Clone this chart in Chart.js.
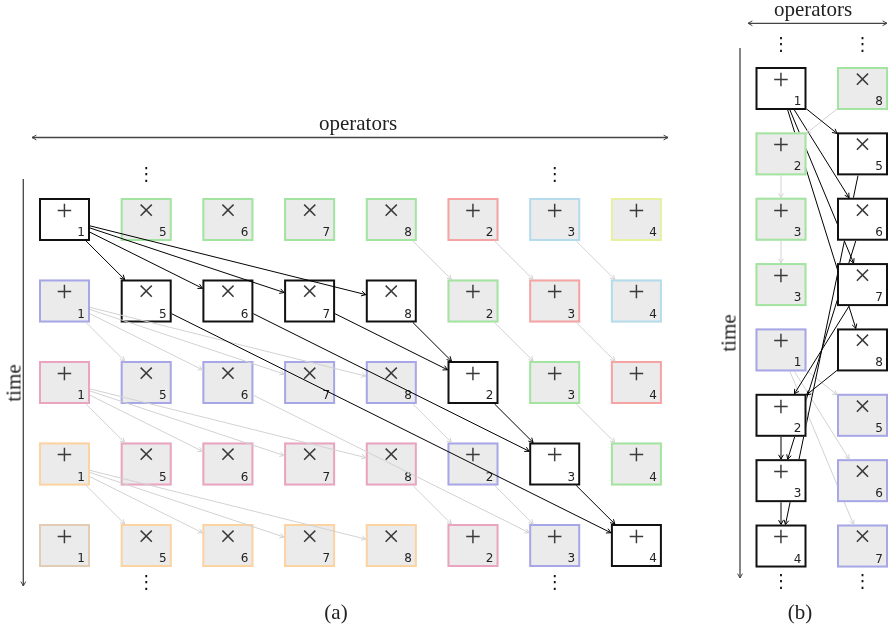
<!DOCTYPE html>
<html lang="en">
<head>
<meta charset="UTF-8" />
<title>Operator schedule</title>
<style>
  body {
    margin: 0;
    background: #fff;
  }
  #wrap {
    position: relative;
    width: 892px;
    height: 633px;
  }
  canvas {
    position: absolute;
    left: 0;
    top: 0;
  }
  .lbl {
    position: absolute;
    font-family: 'Liberation Serif', serif;
    font-size: 21px;
    line-height: 1;
    color: #222;
    white-space: nowrap;
    transform: translate(-50%, -50%);
  }
  .rot {
    transform: translate(-50%, -50%) rotate(-90deg);
  }
</style>
</head>
<body>

<div id="wrap">
  <canvas id="chart" width="892" height="633"></canvas>
  <div class="lbl" style="left:358px; top:123px">operators</div>
  <div class="lbl rot" style="left:14px; top:383px">time</div>
  <div class="lbl" style="left:336px; top:612px">(a)</div>
  <div class="lbl" style="left:813px; top:9px">operators</div>
  <div class="lbl rot" style="left:729px; top:333px">time</div>
  <div class="lbl" style="left:800px; top:612px">(b)</div>
</div>

<script src="https://cdn.jsdelivr.net/npm/chart.js"></script>
<script>
// ---- (a): 8 operators, 5 time steps ----
const opA  = ['+', '×', '×', '×', '×', '+', '+', '+'];
const numA = [1, 5, 6, 7, 8, 2, 3, 4];
// which iteration each cell belongs to (0 = the highlighted one)
const iterA = [
  [0, -1, -1, -1, -1, -2, -3, -4],
  [1,  0,  0,  0,  0, -1, -2, -3],
  [2,  1,  1,  1,  1,  0, -1, -2],
  [3,  2,  2,  2,  2,  1,  0, -1],
  [4,  3,  3,  3,  3,  2,  1,  0]
];
// edges [fromRow, fromCol, toRow, toCol]
const edgesA = [
  [0,0, 1,1], [0,0, 1,2], [0,0, 1,3], [0,0, 1,4],
  [1,1, 4,7], [1,2, 3,6], [1,3, 2,5], [1,4, 2,5], [2,5, 3,6], [3,6, 4,7],
  [1,0, 2,1], [1,0, 2,2], [1,0, 2,3], [1,0, 2,4],
  [2,0, 3,1], [2,0, 3,2], [2,0, 3,3], [2,0, 3,4],
  [3,0, 4,1], [3,0, 4,2], [3,0, 4,3], [3,0, 4,4],
  [2,2, 4,6], [2,4, 3,5], [3,5, 4,6], [3,4, 4,5],
  [0,4, 1,5], [1,5, 2,6], [2,6, 3,7],
  [0,5, 1,6], [1,6, 2,7],
  [0,6, 1,7]
];
const dotsA = [[-0.55, 1], [-0.55, 6], [4.45, 1], [4.45, 6]];

// ---- (b): 2 operators, 8 time steps ----
const opB  = ['+', '×'];
const numB = [[1, 8], [2, 5], [3, 6], [3, 7], [1, 8], [2, 5], [3, 6], [4, 7]];
const iterB = [[0, -1], [-1, 0], [-1, 0], [-1, 0], [1, 0], [0, 1], [0, 1], [0, 1]];
const edgesB = [
  [0,0, 1,1], [0,0, 2,1], [0,0, 3,1], [0,0, 4,1],
  [1,1, 7,0], [2,1, 6,0], [3,1, 5,0], [4,1, 5,0], [5,0, 6,0], [6,0, 7,0],
  [0,1, 1,0], [1,0, 2,0], [2,0, 3,0],
  [4,0, 5,1], [4,0, 6,1], [4,0, 7,1]
];
const dotsB = [[-0.68, 0], [-0.68, 1], [7.55, 0], [7.55, 1]];

// colours per iteration
const palette = {
  '0': '#111111', '-1': '#a3e4a0', '-2': '#f5a3a3', '-3': '#b4dcec', '-4': '#e8f0a2',
  '1': '#a7a7e8', '2': '#eaa4bf', '3': '#fdd3a2', '4': '#e2cdb4'
};

const W = 892, H = 633;
const HW = 25.5, HH = 21.5;   // half box size in px

// grid layout -> scale ranges (first centre px, step px)
function range(first, step, size) {
  return { min: -first / step, max: (size - first) / step };
}
const rxA = range(64.5, 81.7, W), ryA = range(219.5, 81.5, H);
const rxB = range(781, 81.5, W),  ryB = range(88.5, 65.36, H);

function cells(op, num, iter, perRow) {
  const out = [];
  iter.forEach((row, r) => row.forEach((it, c) => {
    out.push({ x: c, y: r, op: op[c], num: perRow ? num[r][c] : num[c], it: it });
  }));
  return out;
}
const nodesA = cells(opA, numA, iterA, false);
const nodesB = cells(opB, numB, iterB, true);

function clip(cx, cy, dx, dy) {
  const t = Math.min(dx ? HW / Math.abs(dx) : Infinity, dy ? HH / Math.abs(dy) : Infinity);
  return [cx + dx * t, cy + dy * t];
}

function edgeGeom(chart, p, e) {
  const sx = chart.scales['x' + p], sy = chart.scales['y' + p];
  const x1 = sx.getPixelForValue(e[1]), y1 = sy.getPixelForValue(e[0]);
  const x2 = sx.getPixelForValue(e[3]), y2 = sy.getPixelForValue(e[2]);
  const dx = x2 - x1, dy = y2 - y1;
  return { a: clip(x1, y1, dx, dy), b: clip(x2, y2, -dx, -dy), ang: Math.atan2(dy, dx) };
}

function drawLine(ctx, g, col) {
  ctx.strokeStyle = col;
  ctx.lineWidth = 1;
  ctx.beginPath();
  ctx.moveTo(g.a[0], g.a[1]);
  ctx.lineTo(g.b[0], g.b[1]);
  ctx.stroke();
}

function drawHead(ctx, x, y, ang, col) {
  const L = 5, s = 0.5;
  ctx.strokeStyle = col;
  ctx.lineWidth = 1;
  ctx.beginPath();
  ctx.moveTo(x - L * Math.cos(ang - s), y - L * Math.sin(ang - s));
  ctx.lineTo(x, y);
  ctx.lineTo(x - L * Math.cos(ang + s), y - L * Math.sin(ang + s));
  ctx.stroke();
}

function drawBox(ctx, x, y, n) {
  ctx.fillStyle = n.it === 0 ? '#ffffff' : '#ebebeb';
  ctx.fillRect(x - HW, y - HH, 2 * HW, 2 * HH);
  ctx.strokeStyle = palette[n.it];
  ctx.lineWidth = 2;
  ctx.strokeRect(x - HW + 1, y - HH + 1, 2 * HW - 2, 2 * HH - 2);

  ctx.fillStyle = '#3a3a3a';
  ctx.font = (n.op === '+' ? '29px' : '30px') + ' "Liberation Serif"';
  ctx.textAlign = 'center';
  ctx.textBaseline = 'alphabetic';
  const m = ctx.measureText(n.op);
  const mid = y - 9.2;
  ctx.fillText(n.op, x, mid + (m.actualBoundingBoxAscent - m.actualBoundingBoxDescent) / 2);

  ctx.fillStyle = '#222';
  ctx.font = '12px "DejaVu Sans"';
  ctx.textAlign = 'right';
  ctx.fillText(String(n.num), x + 20.5, y + 16.5);
}

function drawDots(ctx, chart, p, list) {
  const sx = chart.scales['x' + p], sy = chart.scales['y' + p];
  ctx.fillStyle = '#111';
  ctx.font = '18px "DejaVu Sans"';
  ctx.textAlign = 'center';
  ctx.textBaseline = 'alphabetic';
  list.forEach(d => {
    const m = ctx.measureText('⋮');
    const y = sy.getPixelForValue(d[0]);
    ctx.fillText('⋮', sx.getPixelForValue(d[1]), y + (m.actualBoundingBoxAscent - m.actualBoundingBoxDescent) / 2);
  });
}

function arrow(ctx, x1, y1, x2, y2, both) {
  ctx.strokeStyle = '#444';
  ctx.lineWidth = 1.3;
  ctx.beginPath();
  ctx.moveTo(x1, y1);
  ctx.lineTo(x2, y2);
  ctx.stroke();
  const ang = Math.atan2(y2 - y1, x2 - x1);
  drawHead(ctx, x2, y2, ang, '#444');
  if (both) drawHead(ctx, x1, y1, ang + Math.PI, '#444');
}

const diagram = {
  id: 'diagram',
  afterDatasetsDraw(chart) {
    const ctx = chart.ctx;
    ctx.save();

    // axes arrows
    arrow(ctx, 32, 137.5, 668, 137.5, true);
    arrow(ctx, 23.3, 179, 23.3, 586, false);
    arrow(ctx, 748, 23.3, 887, 23.3, true);
    arrow(ctx, 740, 48, 740, 578, false);

    // (b): edges sit behind the boxes
    const gB = edgesB.map(e => ({ g: edgeGeom(chart, 'b', e), it: iterB[e[0]][e[1]] }));
    gB.filter(o => o.it !== 0).forEach(o => drawLine(ctx, o.g, '#d2d2d2'));
    gB.filter(o => o.it === 0).forEach(o => drawLine(ctx, o.g, '#000'));
    const metaB = chart.getDatasetMeta(1);
    metaB.data.forEach((pt, i) => drawBox(ctx, pt.x, pt.y, nodesB[i]));
    gB.forEach(o => drawHead(ctx, o.g.b[0], o.g.b[1], o.g.ang, o.it === 0 ? '#000' : '#d2d2d2'));

    // (a): boxes first, edges on top
    const metaA = chart.getDatasetMeta(0);
    metaA.data.forEach((pt, i) => drawBox(ctx, pt.x, pt.y, nodesA[i]));
    const gA = edgesA.map(e => ({ g: edgeGeom(chart, 'a', e), it: iterA[e[0]][e[1]] }));
    gA.filter(o => o.it !== 0).forEach(o => {
      drawLine(ctx, o.g, '#d2d2d2');
      drawHead(ctx, o.g.b[0], o.g.b[1], o.g.ang, '#d2d2d2');
    });
    gA.filter(o => o.it === 0).forEach(o => {
      drawLine(ctx, o.g, '#000');
      drawHead(ctx, o.g.b[0], o.g.b[1], o.g.ang, '#000');
    });

    drawDots(ctx, chart, 'a', dotsA);
    drawDots(ctx, chart, 'b', dotsB);
    ctx.restore();
  }
};

new Chart(document.getElementById('chart'), {
  type: 'scatter',
  data: {
    datasets: [
      { label: '(a)', xAxisID: 'xa', yAxisID: 'ya', data: nodesA, pointRadius: 0, pointHoverRadius: 0 },
      { label: '(b)', xAxisID: 'xb', yAxisID: 'yb', data: nodesB, pointRadius: 0, pointHoverRadius: 0 }
    ]
  },
  options: {
    responsive: false,
    animation: false,
    events: [],
    layout: { padding: 0 },
    plugins: { legend: { display: false }, tooltip: { enabled: false } },
    scales: {
      xa: { type: 'linear', axis: 'x', position: 'bottom', display: false, min: rxA.min, max: rxA.max },
      ya: { type: 'linear', axis: 'y', position: 'left', display: false, reverse: true, min: ryA.min, max: ryA.max },
      xb: { type: 'linear', axis: 'x', position: 'bottom', display: false, min: rxB.min, max: rxB.max },
      yb: { type: 'linear', axis: 'y', position: 'left', display: false, reverse: true, min: ryB.min, max: ryB.max }
    }
  },
  plugins: [diagram]
});
</script>

</body>
</html>
